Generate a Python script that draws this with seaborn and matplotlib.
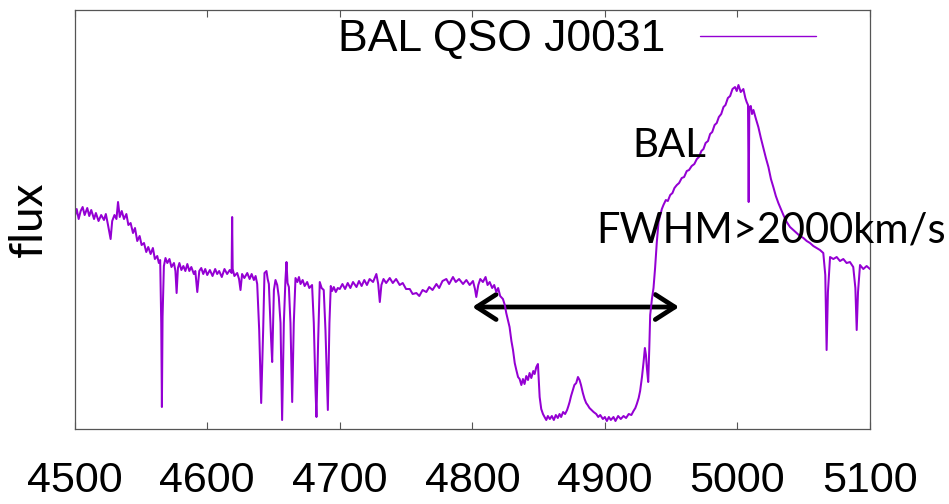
import matplotlib
matplotlib.use("Agg")
import matplotlib.pyplot as plt
from matplotlib.patches import FancyArrowPatch
import seaborn as sns
import pandas as pd

# Observed spectrum of the quasar: wavelength (Angstrom) and flux (arbitrary units)
wavelength = [
    4500, 4501.5, 4503, 4504.5, 4506, 4507.5, 4509.5, 4511, 4512.5, 4514.6, 4516, 4518, 4520, 4522.1,
    4523.5, 4525, 4527.1, 4528.3, 4530, 4531.5, 4532.7, 4534, 4535.5, 4537.2, 4539, 4540.5, 4542.2,
    4544, 4545.5, 4547.2, 4549, 4550.5, 4552.3, 4554, 4555.5, 4557.3, 4559, 4560.5, 4562.3, 4563.5,
    4564.5, 4565.3, 4565.8, 4566.3, 4567.3, 4568.5, 4569.9, 4571.5, 4573, 4574.9, 4576, 4576.9,
    4577.9, 4579, 4580.5, 4582, 4583.5, 4585, 4586.5, 4588, 4589.9, 4591, 4592.5, 4594, 4595.5, 4597,
    4598.5, 4600, 4602, 4604, 4606, 4607.5, 4609, 4611, 4613, 4615, 4617, 4618.4, 4618.8, 4619.2,
    4620.5, 4622.6, 4624, 4625.1, 4626.3, 4628, 4630.2, 4632, 4633.5, 4635.2, 4636.5, 4637.7, 4639.2,
    4640.7, 4642.2, 4643.2, 4644.7, 4645.6, 4646.5, 4648.2, 4649.0, 4650.3, 4651.5, 4652.8, 4654.0,
    4655.3, 4656.5, 4657.8, 4659.0, 4659.8, 4660.6, 4661.6, 4662.8, 4664.1, 4665.3, 4666.6, 4668,
    4669.2, 4670.4, 4672, 4673.5, 4675.4, 4677, 4679.1, 4680.4, 4681.7, 4682.4, 4683.7, 4684.9,
    4686.3, 4687.9, 4689.2, 4691.0, 4692.2, 4693.2, 4694.2, 4695.5, 4697, 4698.5, 4700,
    4702, 4704, 4706, 4708, 4710, 4712.6, 4714.5, 4716.5, 4718.5, 4720.5, 4722.5, 4725.1, 4727.6,
    4729, 4730.2, 4731.4, 4733, 4735, 4737.7, 4740, 4742.5, 4745.2, 4747.5, 4750, 4752.8, 4755,
    4757.8, 4760, 4762.5, 4765.3, 4767.5, 4770, 4772.9, 4775, 4777.5, 4780.4, 4782.5, 4785.4, 4787.5,
    4790, 4793.0, 4795.5, 4798, 4800.5, 4802, 4803.0, 4804.5, 4806, 4808.0, 4810, 4811.5, 4813.1,
    4815, 4816.5, 4818.1, 4819.5, 4821, 4823.1, 4824.5, 4825.6, 4827, 4828.1, 4829.5, 4830.7, 4832,
    4833.2, 4834.5, 4835.7, 4837, 4838.2, 4839.4, 4840.7, 4842, 4843.2, 4844.5, 4846, 4847.0, 4848.3,
    4849.5, 4850.3, 4850.8, 4852, 4853.3, 4854.5, 4855.8, 4857, 4858.5, 4860, 4861.5, 4863, 4864.5,
    4865.8, 4867, 4868.5, 4870, 4871.5, 4872.5, 4873.4, 4874.5, 4875.9, 4877, 4878.4, 4879.7, 4880.9,
    4882, 4883.4, 4884.7, 4885.9, 4887, 4888.4, 4890, 4891.5, 4893.5, 4895, 4896.5, 4898.5, 4900,
    4901.5, 4903, 4904.5, 4906.5, 4908, 4910, 4912, 4914.1, 4916, 4918, 4920, 4921.6, 4923, 4924.1,
    4925.5, 4926.6, 4928, 4929.2, 4930.2, 4931, 4931.7, 4932.7, 4933.5, 4934.2, 4935.5, 4936.7,
    4937.9, 4939.2, 4940.5, 4942, 4943, 4944.2, 4946, 4947.5, 4949.3, 4951, 4952.5, 4954.3, 4956,
    4958, 4959.8, 4961.8, 4963.5, 4965.5, 4967.5, 4969.4, 4971, 4972.8, 4974.4, 4976, 4977.8, 4979.4,
    4981, 4982.8, 4984.4, 4986, 4987.8, 4989.5, 4991, 4992.8, 4994.5, 4996.3, 4998.2, 4999.5, 5000.8,
    5002.5, 5004.5, 5006, 5007.0, 5008.0, 5008.5, 5009.0, 5010.1, 5011, 5012.1, 5014, 5015.8, 5017.7,
    5019.6, 5021.5, 5023.4, 5025.3, 5027.1, 5029, 5030.9, 5032.8, 5034.7, 5037.2, 5039.7, 5042.2,
    5044.7, 5047.2, 5049.8, 5052.3, 5054.8, 5057.3, 5059.8, 5062.3, 5064.8, 5066.3, 5067.3, 5068.3,
    5069.9, 5072.4, 5074.9, 5077.4, 5079.9, 5082.4, 5084.9, 5087.4, 5089.0, 5090.0, 5091.0, 5092.5,
    5095, 5097.5, 5100,
]
flux = [
    2.12, 2.20, 2.10, 2.18, 2.22, 2.14, 2.21, 2.13, 2.19, 2.10, 2.16, 2.08, 2.14, 2.09,
    2.15, 2.05, 1.90, 2.08, 2.14, 2.10, 2.27, 2.12, 2.18, 2.10, 2.15, 2.04, 2.06,
    1.96, 2.01, 1.88, 1.93, 1.84, 1.86, 1.77, 1.82, 1.75, 1.81, 1.70, 1.73, 1.66,
    1.69, 1.06, 0.22, 1.12, 1.63, 1.71, 1.66, 1.70, 1.62, 1.66, 1.58, 1.36,
    1.61, 1.66, 1.59, 1.63, 1.58, 1.65, 1.58, 1.62, 1.55, 1.58, 1.37, 1.58, 1.61, 1.55,
    1.60, 1.54, 1.59, 1.53, 1.60, 1.55, 1.58, 1.52, 1.60, 1.55, 1.59, 1.56, 2.12, 1.60,
    1.53, 1.56, 1.50, 1.39, 1.55, 1.51, 1.56, 1.50, 1.55, 1.49, 1.53, 1.45, 0.99,
    0.26, 0.99, 1.56, 1.58, 1.50, 1.45, 0.89, 0.67, 1.39, 1.49, 1.44, 1.32,
    1.06, 0.09, 1.06, 1.49, 1.67, 1.46, 1.42, 1.06, 0.27, 1.06, 1.51, 1.47,
    1.52, 1.45, 1.49, 1.43, 1.47, 1.41, 1.44, 1.06, 0.39, 0.12, 0.89, 1.47,
    1.41, 1.39, 0.99, 0.19, 1.06, 1.43, 1.38, 1.42, 1.37, 1.41, 1.40,
    1.45, 1.40, 1.46, 1.41, 1.47, 1.42, 1.48, 1.43, 1.49, 1.44, 1.50, 1.47, 1.55,
    1.45, 1.27, 1.44, 1.50, 1.46, 1.51, 1.46, 1.50, 1.44, 1.46, 1.40, 1.40, 1.35,
    1.36, 1.33, 1.39, 1.37, 1.42, 1.39, 1.45, 1.41, 1.48, 1.50, 1.45, 1.52, 1.47,
    1.50, 1.45, 1.49, 1.44, 1.48, 1.40, 1.32, 1.44, 1.50, 1.47, 1.52, 1.44, 1.47,
    1.41, 1.44, 1.37, 1.41, 1.33, 1.30, 1.24, 1.16, 1.08, 1.02, 0.88, 0.79, 0.66,
    0.59, 0.52, 0.50, 0.44, 0.50, 0.45, 0.53, 0.49, 0.56, 0.51, 0.58, 0.55, 0.62,
    0.65, 0.45, 0.32, 0.20, 0.15, 0.12, 0.09, 0.13, 0.10, 0.13, 0.09, 0.14, 0.11,
    0.15, 0.12, 0.17, 0.15, 0.19, 0.23, 0.27, 0.33, 0.39, 0.44, 0.46, 0.52, 0.49,
    0.44, 0.36, 0.30, 0.26, 0.24, 0.21, 0.19, 0.17, 0.15, 0.12, 0.14, 0.10, 0.12,
    0.08, 0.12, 0.09, 0.12, 0.08, 0.13, 0.10, 0.13, 0.11, 0.15, 0.14, 0.18, 0.21, 0.25,
    0.31, 0.38, 0.52, 0.67, 0.81, 0.74, 0.61, 0.47, 0.80, 1.14, 1.30, 1.41,
    1.61, 1.87, 2.07, 2.15, 2.20, 2.24, 2.29, 2.28, 2.34, 2.36, 2.41, 2.44, 2.46,
    2.51, 2.52, 2.58, 2.59, 2.63, 2.65, 2.70, 2.72, 2.78, 2.80, 2.86, 2.88, 2.95,
    2.97, 3.04, 3.06, 3.12, 3.15, 3.22, 3.24, 3.31, 3.33, 3.40, 3.42, 3.38, 3.44,
    3.37, 3.40, 3.31, 3.27, 3.24, 2.27, 3.22, 3.23, 3.15, 3.19, 3.10, 3.02, 2.91,
    2.81, 2.71, 2.62, 2.50, 2.42, 2.33, 2.26, 2.20, 2.14, 2.07, 2.02, 1.99,
    1.96, 1.93, 1.91, 1.88, 1.86, 1.83, 1.81, 1.79, 1.76, 1.54, 0.79, 1.37,
    1.72, 1.70, 1.72, 1.68, 1.70, 1.66, 1.67, 1.62, 1.41, 0.99, 1.37, 1.64,
    1.60, 1.63, 1.60,
]

series_label = "BAL QSO J0031"
x_ticks = [4500, 4600, 4700, 4800, 4900, 5000, 5100]
x_range = (4500, 5100)
flux_range = (0, 4.195)

# Absorption trough marker and its labels
trough_span = (4800, 4956)
trough_level = 1.22
feature_label = "BAL"
width_label = "FWHM>2000km/s"

sns.set_style("white")
line_color = "#9400d3"
sans_ticks = ["Liberation Sans", "DejaVu Sans"]
sans_notes = ["Lato", "DejaVu Sans"]

df = pd.DataFrame({"wavelength": wavelength, "flux": flux})

fig = plt.figure(figsize=(9.49, 5.04), dpi=100)
ax = fig.add_axes([0.0787, 0.1488, 0.8380, 0.8323])

sns.lineplot(data=df, x="wavelength", y="flux", ax=ax, color=line_color,
             linewidth=1.45, sort=False, estimator=None, label=series_label)

ax.set_xlim(*x_range)
ax.set_ylim(*flux_range)
ax.set_xticks(x_ticks)
ax.set_xticklabels([str(t) for t in x_ticks], fontfamily=sans_ticks, fontsize=31,
                   color="black")
ax.set_yticks([])
ax.tick_params(axis="x", direction="in", length=5, width=0.8, color="#555555",
               top=True, bottom=True, pad=23)
ax.set_xlabel("")
ax.set_ylabel("flux", fontfamily=sans_notes, fontsize=33, labelpad=18, color="black")
for sp in ax.spines.values():
    sp.set_color("#555555")
    sp.set_linewidth(0.9)

leg = ax.legend(loc="center right", bbox_to_anchor=(816 / 949, 1 - 40 / 504),
                bbox_transform=fig.transFigure, frameon=False, markerfirst=False,
                handlelength=2.6, handletextpad=0.8, borderpad=0, borderaxespad=0,
                prop={"family": sans_ticks, "size": 32})
for t in leg.get_texts():
    t.set_color("black")
for h in leg.get_lines():
    h.set_linewidth(1.0)

# Double-headed arrow spanning the broad absorption trough
arrow = FancyArrowPatch((trough_span[0], trough_level), (trough_span[1], trough_level),
                        arrowstyle="<->,head_length=0.7,head_width=0.45",
                        mutation_scale=20, linewidth=3.4, color="black",
                        shrinkA=0, shrinkB=0, capstyle="round", joinstyle="round")
ax.add_patch(arrow)

ax.text(4920.8, 2.72, feature_label, fontfamily=sans_notes, fontsize=29,
        ha="left", va="baseline", color="black")
ax.text(4893.7, 1.87, width_label, fontfamily=sans_notes, fontsize=30,
        ha="left", va="baseline", color="black", clip_on=False)

fig.savefig("out.png", dpi=100)
